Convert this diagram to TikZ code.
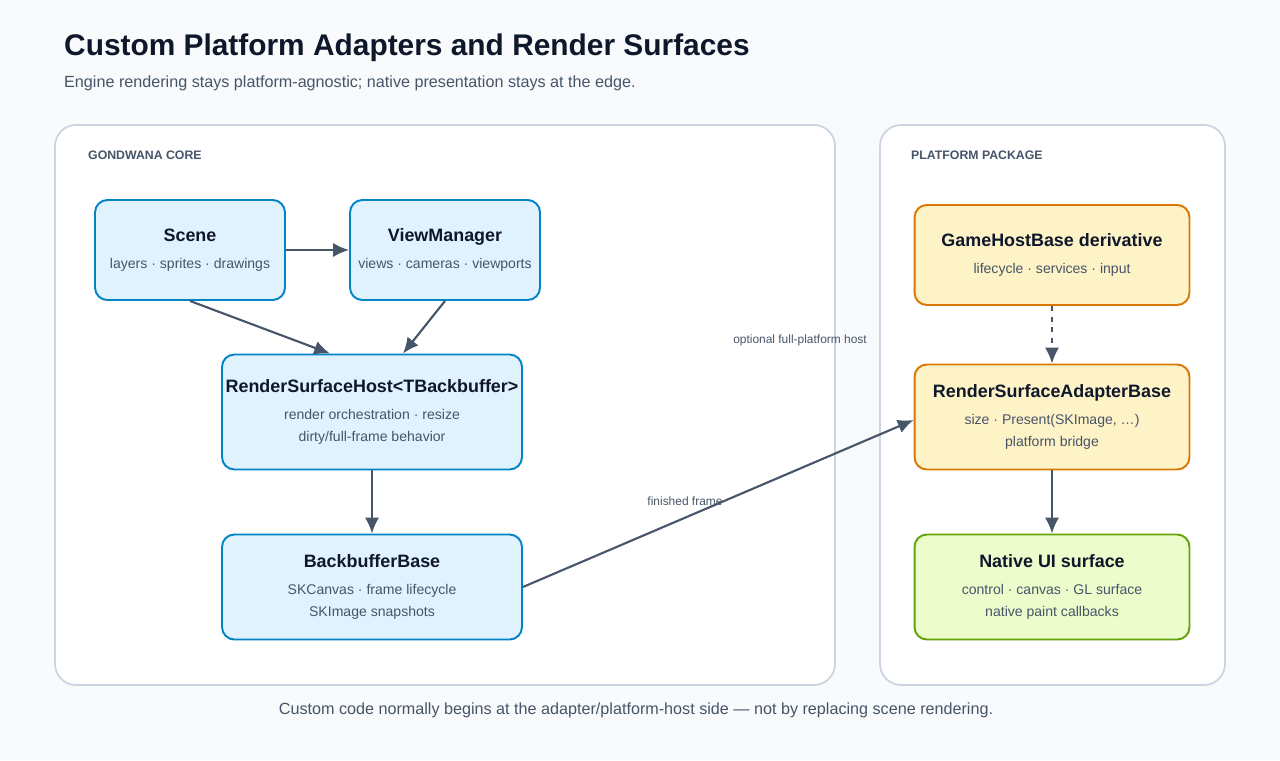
\documentclass[tikz,border=0pt]{standalone}
\usepackage{fontspec}
\setmainfont{Liberation Sans}
\usetikzlibrary{positioning, arrows.meta, calc}
\definecolor{bgc}{HTML}{F8FAFC}
\definecolor{ink}{HTML}{0F172A}
\definecolor{muted}{HTML}{475569}
\definecolor{panelline}{HTML}{CBD5E1}
\definecolor{bluefill}{HTML}{E0F2FE}
\definecolor{blueline}{HTML}{0284C7}
\definecolor{yelfill}{HTML}{FEF3C7}
\definecolor{yelline}{HTML}{D97706}
\definecolor{grnfill}{HTML}{ECFCCB}
\definecolor{grnline}{HTML}{65A30D}
\definecolor{arrowc}{HTML}{475569}
\newcommand{\boxtitle}[1]{{\fontsize{10.2}{14}\selectfont\bfseries\textcolor{ink}{#1}}}

\begin{document}
\begin{tikzpicture}[
    x=0.02cm, y=-0.02cm,
    % Styles
    panel/.style={
        draw=panelline,
        fill=white,
        rounded corners=12pt,
        line width=1pt
    },
    panellabel/.style={
        anchor=west,
        font=\fontsize{7}{8}\selectfont\bfseries,
        text=muted
    },
    box/.style={ % Component box
        draw,
        rounded corners=7pt,
        line width=1.1pt,
        align=center,
        inner sep=0pt,
        text=muted,
        font=\fontsize{8}{12.5}\selectfont
    },
    core/.style={box, fill=bluefill, draw=blueline},
    host/.style={box, fill=yelfill, draw=yelline},
    native/.style={box, fill=grnfill, draw=grnline},
    arrow/.style={
        -{Latex[length=9pt,width=8pt]},
        draw=arrowc,
        line width=1.2pt
    },
    note/.style={
        font=\fontsize{6.8}{8}\selectfont,
        text=muted
    }
]
    % Background and panels
    \fill[bgc] (0,0) rectangle (1280,760);
    \draw[panel] (55,125) rectangle (835,685);
    \draw[panel] (880,125) rectangle (1225,685);
    \node[panellabel] (corelbl) at (82,155) {GONDWANA CORE};
    \node[panellabel] (platlbl) at (905,155) {PLATFORM PACKAGE};

    % Title
    \node[anchor=west, font=\fontsize{17}{20}\selectfont\bfseries, text=ink] (title) at (58,48)
        {Custom Platform Adapters and Render Surfaces};
    \node[anchor=west, font=\fontsize{9.2}{11}\selectfont, text=muted] (subtitle) at (58,83)
        {Engine rendering stays platform-agnostic; native presentation stays at the edge.};

    % Core nodes
    \node[core, minimum width=3.8cm, minimum height=2cm] (scene) at (190,250)
        {\boxtitle{Scene}\\[3pt] layers · sprites · drawings};
    \node[core, minimum width=3.8cm, minimum height=2cm] (viewmgr) at (445,250)
        {\boxtitle{ViewManager}\\[3pt] views · cameras · viewports};
    \node[core, minimum width=6cm, minimum height=2.3cm] (rshost) at (372,412)
        {\boxtitle{RenderSurfaceHost<TBackbuffer>}\\[3pt] render orchestration · resize\\dirty/full-frame behavior};
    \node[core, minimum width=6cm, minimum height=2.1cm] (backbuf) at (372,587)
        {\boxtitle{BackbufferBase}\\[3pt] SKCanvas · frame lifecycle\\SKImage snapshots};

    % Platform nodes
    \node[host, minimum width=5.5cm, minimum height=2cm] (gamehost) at (1052,255)
        {\boxtitle{GameHostBase derivative}\\[3pt] lifecycle · services · input};
    \node[host, minimum width=5.5cm, minimum height=2.1cm] (adapter) at (1052,417)
        {\boxtitle{RenderSurfaceAdapterBase}\\[3pt] size · Present(SKImage, …)\\platform bridge};
    \node[native, minimum width=5.5cm, minimum height=2.1cm] (nativeui) at (1052,587)
        {\boxtitle{Native UI surface}\\[3pt] control · canvas · GL surface\\native paint callbacks};

    % Connectors
    \draw[arrow] (scene.east) -- (viewmgr.west);
    \draw[arrow] (scene.south) -- ($(rshost.north)+(-42,0)$);
    \draw[arrow] (viewmgr.south) -- ($(rshost.north)+(31,0)$);
    \draw[arrow] (rshost.south) -- (backbuf.north);
    \draw[arrow] (backbuf.east) -- ($(adapter.west)+(0,3)$);
    \draw[arrow, dashed] (gamehost.south) -- (adapter.north);
    \draw[arrow] (adapter.south) -- (nativeui.north);

    % Notes
    \node[note] (finished) at (685,501) {finished frame};
    \node[note] (optional) at (800,340) {optional full-platform host};
    \node[font=\fontsize{9.2}{11}\selectfont, text=muted] (footer) at (636,710)
        {Custom code normally begins at the adapter/platform-host side — not by replacing scene rendering.};
\end{tikzpicture}
\end{document}
